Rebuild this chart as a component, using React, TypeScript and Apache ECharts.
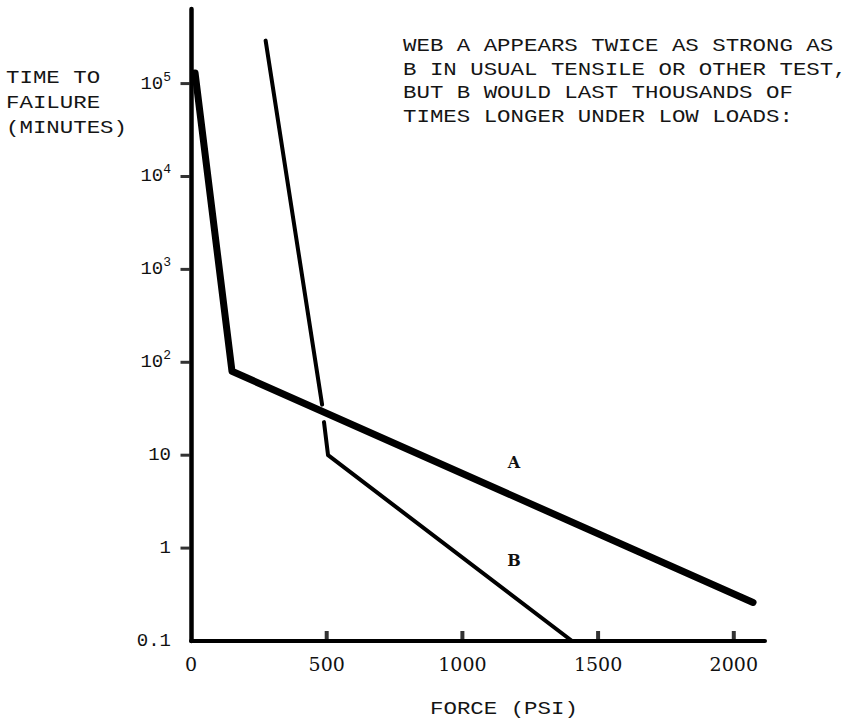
import React, { useEffect, useRef } from "react";
import * as echarts from "echarts";

// ---- data ----
const forceTicks = [0, 500, 1000, 1500, 2000];
const timeTicks = [0.1, 1, 10, 100, 1000, 10000, 100000];
const timeTickBase = ["0.1", "1", "10", "10", "10", "10", "10"];
const timeTickExp = ["", "", "", "2", "3", "4", "5"];

const webAForce = [15, 151, 2071];
const webATime = [130000, 80, 0.26];

const webBUpperForce = [275, 483];
const webBUpperTime = [290000, 35];
const webBLowerForce = [490, 505, 1404];
const webBLowerTime = [22.7, 10, 0.1];

const annotationLines = [
  "WEB A APPEARS TWICE AS STRONG AS",
  "B IN USUAL TENSILE OR OTHER TEST,",
  "BUT B WOULD LAST THOUSANDS OF",
  "TIMES LONGER UNDER LOW LOADS:",
];
const yTitleLines = ["TIME TO", "FAILURE", "(MINUTES)"];
const xTitle = "FORCE (PSI)";
const seriesNames = ["A", "B"];

const pairs = (xs: number[], ys: number[]) => xs.map((x, i) => [x, ys[i]]);

const MONO = '"Liberation Mono", monospace';
const SERIF = '"DejaVu Serif", serif';
const hidden = { show: false };

export default function App() {
  const ref = useRef<HTMLDivElement>(null);
  useEffect(() => {
    if (!ref.current) return;
    const chart = echarts.init(ref.current, null, { renderer: "svg" });
    const typeText = (text: string, x: number, y: number) => ({
      type: "text",
      x,
      y,
      scaleX: 1.18,
      style: {
        text,
        font: `19px ${MONO}`,
        fill: "#151515",
        textAlign: "left",
        textVerticalAlign: "middle",
      },
    });
    const lineCommon = { type: "line", showSymbol: false };
    chart.setOption({
      animation: false,
      backgroundColor: "#ffffff",
      grid: { left: 191, right: 91, top: 9, bottom: 79 },
      xAxis: {
        type: "value",
        min: 0,
        max: 2115,
        axisLine: { show: true, lineStyle: { color: "#000", width: 4, cap: "round" } },
        axisTick: hidden,
        axisLabel: {
          customValues: forceTicks,
          margin: 13,
          color: "#111",
          fontFamily: SERIF,
          fontSize: 19,
          formatter: (v: number) => String(v),
        },
        splitLine: hidden,
      },
      yAxis: {
        type: "log",
        logBase: 10,
        min: 0.1,
        max: 635000,
        axisLine: { show: true, lineStyle: { color: "#000", width: 4.5, cap: "round" } },
        axisTick: hidden,
        axisLabel: {
          customValues: timeTicks,
          margin: 20,
          color: "#111",
          formatter: (v: number) => {
            const i = timeTicks.findIndex((t) => Math.abs(Math.log10(t) - Math.log10(v)) < 1e-6);
            if (i < 0) return "";
            return timeTickExp[i]
              ? `{b|${timeTickBase[i]}}{s|${timeTickExp[i]}}`
              : `{b|${timeTickBase[i]}}`;
          },
          rich: {
            b: { fontFamily: MONO, fontSize: 19, lineHeight: 26, color: "#111" },
            s: { fontFamily: MONO, fontSize: 13, lineHeight: 13, verticalAlign: "top", color: "#111" },
          },
        },
        minorTick: hidden,
        splitLine: hidden,
      },
      series: [
        {
          ...lineCommon,
          name: seriesNames[0],
          data: pairs(webAForce, webATime),
          lineStyle: { color: "#000", width: 7, cap: "round", join: "round" },
        },
        {
          ...lineCommon,
          name: seriesNames[1],
          data: pairs(webBUpperForce, webBUpperTime),
          lineStyle: { color: "#000", width: 4, cap: "round", join: "round" },
        },
        {
          ...lineCommon,
          name: seriesNames[1],
          data: pairs(webBLowerForce, webBLowerTime),
          lineStyle: { color: "#000", width: 4, cap: "round", join: "round" },
        },
        {
          // x-axis tick marks (short upright bars on the axis)
          type: "scatter",
          name: "xTicks",
          silent: true,
          clip: false,
          z: 5,
          symbol: "rect",
          symbolSize: [4, 10],
          symbolOffset: [0, -5],
          itemStyle: { color: "#000" },
          data: forceTicks.slice(1).map((v) => [v, timeTicks[0]]),
        },
        {
          // y-axis tick marks (short bars left of the axis)
          type: "scatter",
          name: "yTicks",
          silent: true,
          clip: false,
          z: 5,
          symbol: "rect",
          symbolSize: [9, 3],
          symbolOffset: [-6, 0],
          itemStyle: { color: "#000" },
          data: timeTicks.slice(1).map((v) => [0, v]),
        },
      ],
      graphic: [
        ...annotationLines.map((t, i) => typeText(t, 403, 46 + i * 23.5)),
        ...yTitleLines.map((t, i) => typeText(t, 6, 78 + i * 25)),
        typeText(xTitle, 430, 709),
        {
          type: "text",
          x: 514,
          y: 462,
          style: { text: seriesNames[0], font: `bold 16px ${SERIF}`, fill: "#111", textAlign: "center", textVerticalAlign: "middle" },
        },
        {
          type: "text",
          x: 514,
          y: 560,
          style: { text: seriesNames[1], font: `bold 16px ${SERIF}`, fill: "#111", textAlign: "center", textVerticalAlign: "middle" },
        },
      ],
    });
    return () => chart.dispose();
  }, []);
  return (
    <div
      ref={ref}
      style={{ position: "absolute", left: 0, top: 0, width: 856, height: 720, background: "#fff" }}
    />
  );
}
